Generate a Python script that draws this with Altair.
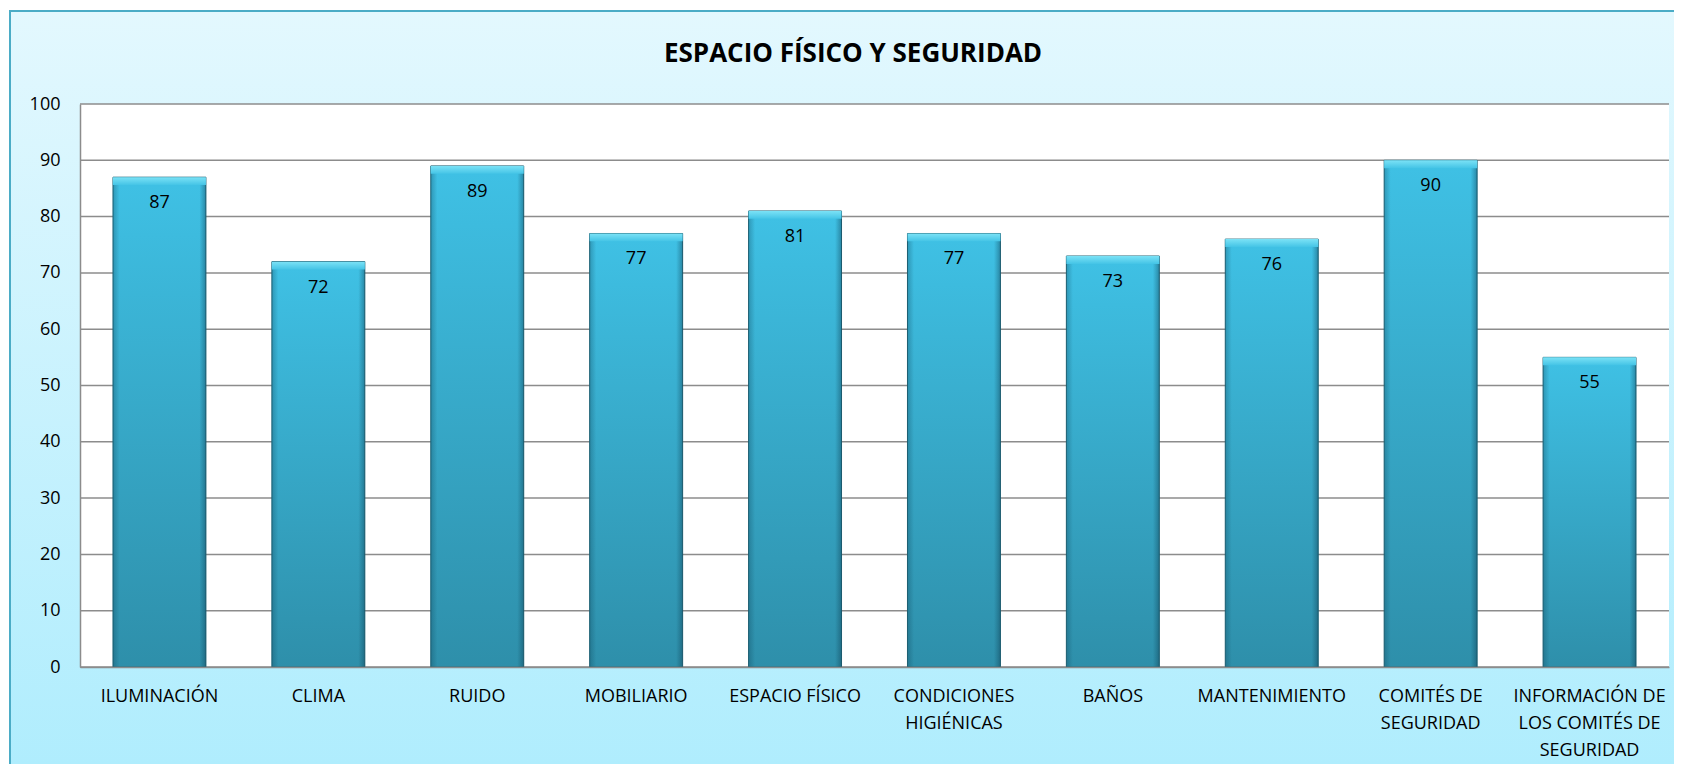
import altair as alt
import pandas as pd

# ---- data ----
categories = [
    "ILUMINACIÓN", "CLIMA", "RUIDO", "MOBILIARIO", "ESPACIO FÍSICO",
    "CONDICIONES|HIGIÉNICAS", "BAÑOS", "MANTENIMIENTO", "COMITÉS DE|SEGURIDAD",
    "INFORMACIÓN DE|LOS COMITÉS DE|SEGURIDAD",
]
values = [87, 72, 89, 77, 81, 77, 73, 76, 90, 55]
y_ticks = [0, 10, 20, 30, 40, 50, 60, 70, 80, 90, 100]
title_text = "ESPACIO FÍSICO Y SEGURIDAD"

df = pd.DataFrame({"cat": categories, "val": values})
grid_df = pd.DataFrame({"val": y_ticks})
one = pd.DataFrame({"k": [0]})
title_df = pd.DataFrame({"t": [title_text]})

W, H = 1589, 563
FONT = "Open Sans"
GRID = "#8c8c8c"

x_scale = alt.Scale(domain=categories, paddingInner=0.415, paddingOuter=0.2075)
y_scale = alt.Scale(domain=[0, 100], nice=False, zero=True)

x_axis = alt.Axis(
    labelExpr="split(datum.label, '|')", labelAngle=0, labelFont=FONT,
    labelFontSize=18, labelColor="black", labelLineHeight=27,
    labelPadding=20, ticks=False, domainColor=GRID, domainWidth=1.5,
    labelOverlap=False, labelLimit=300, zindex=1, grid=False, title=None,
)
y_axis = alt.Axis(
    values=y_ticks, grid=False, ticks=False, domainColor=GRID,
    domainWidth=1.5, labelFont=FONT, labelFontSize=18,
    labelColor="black", labelPadding=20, zindex=1, title=None,
)

X = alt.X("cat:N", scale=x_scale, sort=categories, axis=x_axis, title=None)
Y = alt.Y("val:Q", scale=y_scale, axis=y_axis, title=None)

bg_grad = alt.Gradient(
    gradient="linear", x1=0, y1=0, x2=0, y2=1,
    stops=[alt.GradientStop(offset=0, color="#e3f8fe"),
           alt.GradientStop(offset=1, color="#a2eafd")],
)
bar_grad = alt.Gradient(
    gradient="linear", x1=0, y1=0, x2=0, y2=1,
    stops=[alt.GradientStop(offset=0, color="#3fc1e5"),
           alt.GradientStop(offset=1, color="#2e8faa")],
)
edge_grad = alt.Gradient(
    gradient="linear", x1=0, y1=0, x2=1, y2=0,
    stops=[alt.GradientStop(offset=0, color="rgba(10,60,80,0.30)"),
           alt.GradientStop(offset=0.07, color="rgba(10,60,80,0)"),
           alt.GradientStop(offset=0.93, color="rgba(10,60,80,0)"),
           alt.GradientStop(offset=1, color="rgba(10,50,70,0.40)")],
)
top_grad = alt.Gradient(
    gradient="linear", x1=0, y1=0, x2=0, y2=1,
    stops=[alt.GradientStop(offset=0, color="#7be2f6"),
           alt.GradientStop(offset=1, color="#44c4e6")],
)

background = alt.Chart(one).mark_rect(
    fill=bg_grad, stroke="#4bacc6", strokeWidth=2
).encode(
    x=alt.value(-70), x2=alt.value(W + 300),
    y=alt.value(-93), y2=alt.value(H + 300),
)

plot_area = alt.Chart(one).mark_rect(fill="white").encode(
    x=alt.value(0), x2=alt.value(W), y=alt.value(0), y2=alt.value(H)
)

title = alt.Chart(title_df).mark_text(
    font=FONT, fontSize=26, fontWeight="bold", color="black",
    align="center", baseline="alphabetic",
).encode(x=alt.value(773), y=alt.value(-42), text="t:N")

grid = alt.Chart(grid_df).mark_rule(color=GRID, strokeWidth=1.5).encode(y=Y)

bars = alt.Chart(df).mark_bar(
    fill=bar_grad, stroke="#1f6477", strokeWidth=1
).encode(x=X, y=Y)

edges = alt.Chart(df).mark_bar(fill=edge_grad).encode(x=X, y=Y)

tops = alt.Chart(df).transform_calculate(
    lo="datum.val - 1.4"
).mark_bar(fill=top_grad).encode(x=X, y=Y, y2="lo:Q")

labels = alt.Chart(df).mark_text(
    font=FONT, fontSize=18, color="black", baseline="middle", dy=26
).encode(x=X, y=Y, text="val:Q")

chart = alt.layer(
    background, plot_area, title, grid, bars, edges, tops, labels
).properties(
    width=W, height=H,
    padding={"left": 72, "top": 96, "right": 5, "bottom": 97},
    autosize=alt.AutoSizeParams(type="none"),
    background="white",
).configure_view(stroke=None, fill=None)

chart.save("out.html", embed_options={"renderer": "svg", "actions": False})
